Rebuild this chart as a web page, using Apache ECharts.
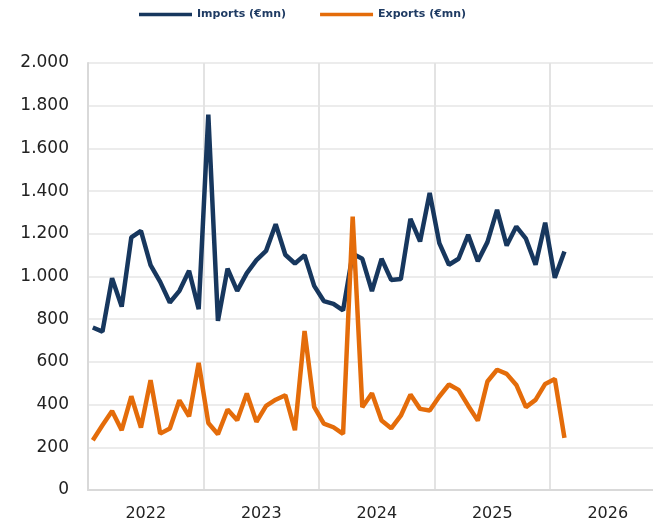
<!DOCTYPE html>
<html lang="en">
<head>
  <meta charset="UTF-8">
  <title>Imports and Exports</title>
  <script src="https://cdn.jsdelivr.net/npm/echarts@6/dist/echarts.min.js"></script>
  <style>
    html, body { margin: 0; padding: 0; background: #fff; }
  </style>
</head>
<body>
  <div id="main" style="width:653px;height:525px;"></div>
  <script>
    // monthly data, first month = Jan 2022
    var startYear = 2022;
    var months = [];
    for (var i = 0; i < 50; i++) {
      var y = startYear + Math.floor(i / 12), m = (i % 12) + 1;
      months.push(y + '-' + (m < 10 ? '0' + m : m));
    }
    var imports = [761, 742, 992, 859, 1183, 1214, 1053, 975, 878, 933,
                   1027, 847, 1758, 792, 1037, 933, 1016, 1077, 1120, 1245,
                   1102, 1061, 1100, 956, 885, 872, 841, 1106, 1083, 931,
                   1083, 984, 988, 1270, 1164, 1391, 1156, 1055, 1083, 1195,
                   1072, 1161, 1312, 1145, 1234, 1177, 1055, 1252, 994, 1117];
    var exports = [233, 303, 370, 280, 439, 292, 514, 264, 288, 420,
                   345, 595, 314, 261, 377, 327, 452, 319, 394, 423,
                   444, 280, 745, 389, 311, 294, 263, 1281, 388, 453,
                   325, 289, 348, 447, 380, 372, 438, 494, 469, 395,
                   325, 508, 563, 544, 492, 388, 422, 497, 520, 244];
    var years = [2022, 2023, 2024, 2025, 2026];

    // month string -> position in months since Jan 2022 (mid-month)
    function pos(s) {
      var p = s.split('-');
      return (+p[0] - startYear) * 12 + (+p[1] - 1) + 0.5;
    }
    function pairs(vals) {
      return vals.map(function (v, i) { return [pos(months[i]), v]; });
    }
    function thousands(v) {
      return String(v).replace(/\B(?=(\d{3})+(?!\d))/g, '.');
    }

    var chart = echarts.init(document.getElementById('main'));
    var option = {
      animation: false,
      backgroundColor: '#fff',
      legend: {
        top: 9, left: 139, padding: 0,
        icon: 'rect', itemWidth: 53, itemHeight: 3.5, itemGap: 34,
        textStyle: { fontFamily: 'DejaVu Sans', fontSize: 11, fontWeight: 'bold', color: '#1f3b63' },
        data: ['Imports (€mn)', 'Exports (€mn)']
      },
      // plot runs past the right edge of the picture
      grid: { left: 88, width: 577.5, top: 63, bottom: 35, outerBoundsMode: 'none' },
      xAxis: {
        type: 'value', min: 0, max: 60, interval: 6,
        axisLine: { show: true, lineStyle: { color: '#d9d9d9', width: 2 } },
        axisTick: { show: false },
        splitLine: { show: true, lineStyle: { color: ['#e3e3e3', 'rgba(0,0,0,0)'], width: 2 } },
        axisLabel: {
          margin: 16, fontFamily: 'DejaVu Sans', fontSize: 16, color: '#222',
          formatter: function (v) {
            return v % 12 === 6 ? String(years[(v - 6) / 12]) : '';
          }
        }
      },
      yAxis: {
        type: 'value', min: 0, max: 2000, interval: 200,
        axisLine: { show: true, lineStyle: { color: '#d9d9d9', width: 2 } },
        axisTick: { show: false },
        splitLine: { lineStyle: { color: '#ececec', width: 2 } },
        axisLabel: {
          margin: 19, fontFamily: 'DejaVu Sans', fontSize: 17, color: '#222',
          formatter: thousands
        }
      },
      series: [
        {
          name: 'Imports (€mn)', type: 'line', data: pairs(imports),
          showSymbol: false, color: '#17375e',
          lineStyle: { width: 4.5, color: '#17375e' }
        },
        {
          name: 'Exports (€mn)', type: 'line', data: pairs(exports),
          showSymbol: false, color: '#e46c0a',
          lineStyle: { width: 4.5, color: '#e46c0a' }
        }
      ]
    };
    chart.setOption(option);
  </script>
</body>
</html>
